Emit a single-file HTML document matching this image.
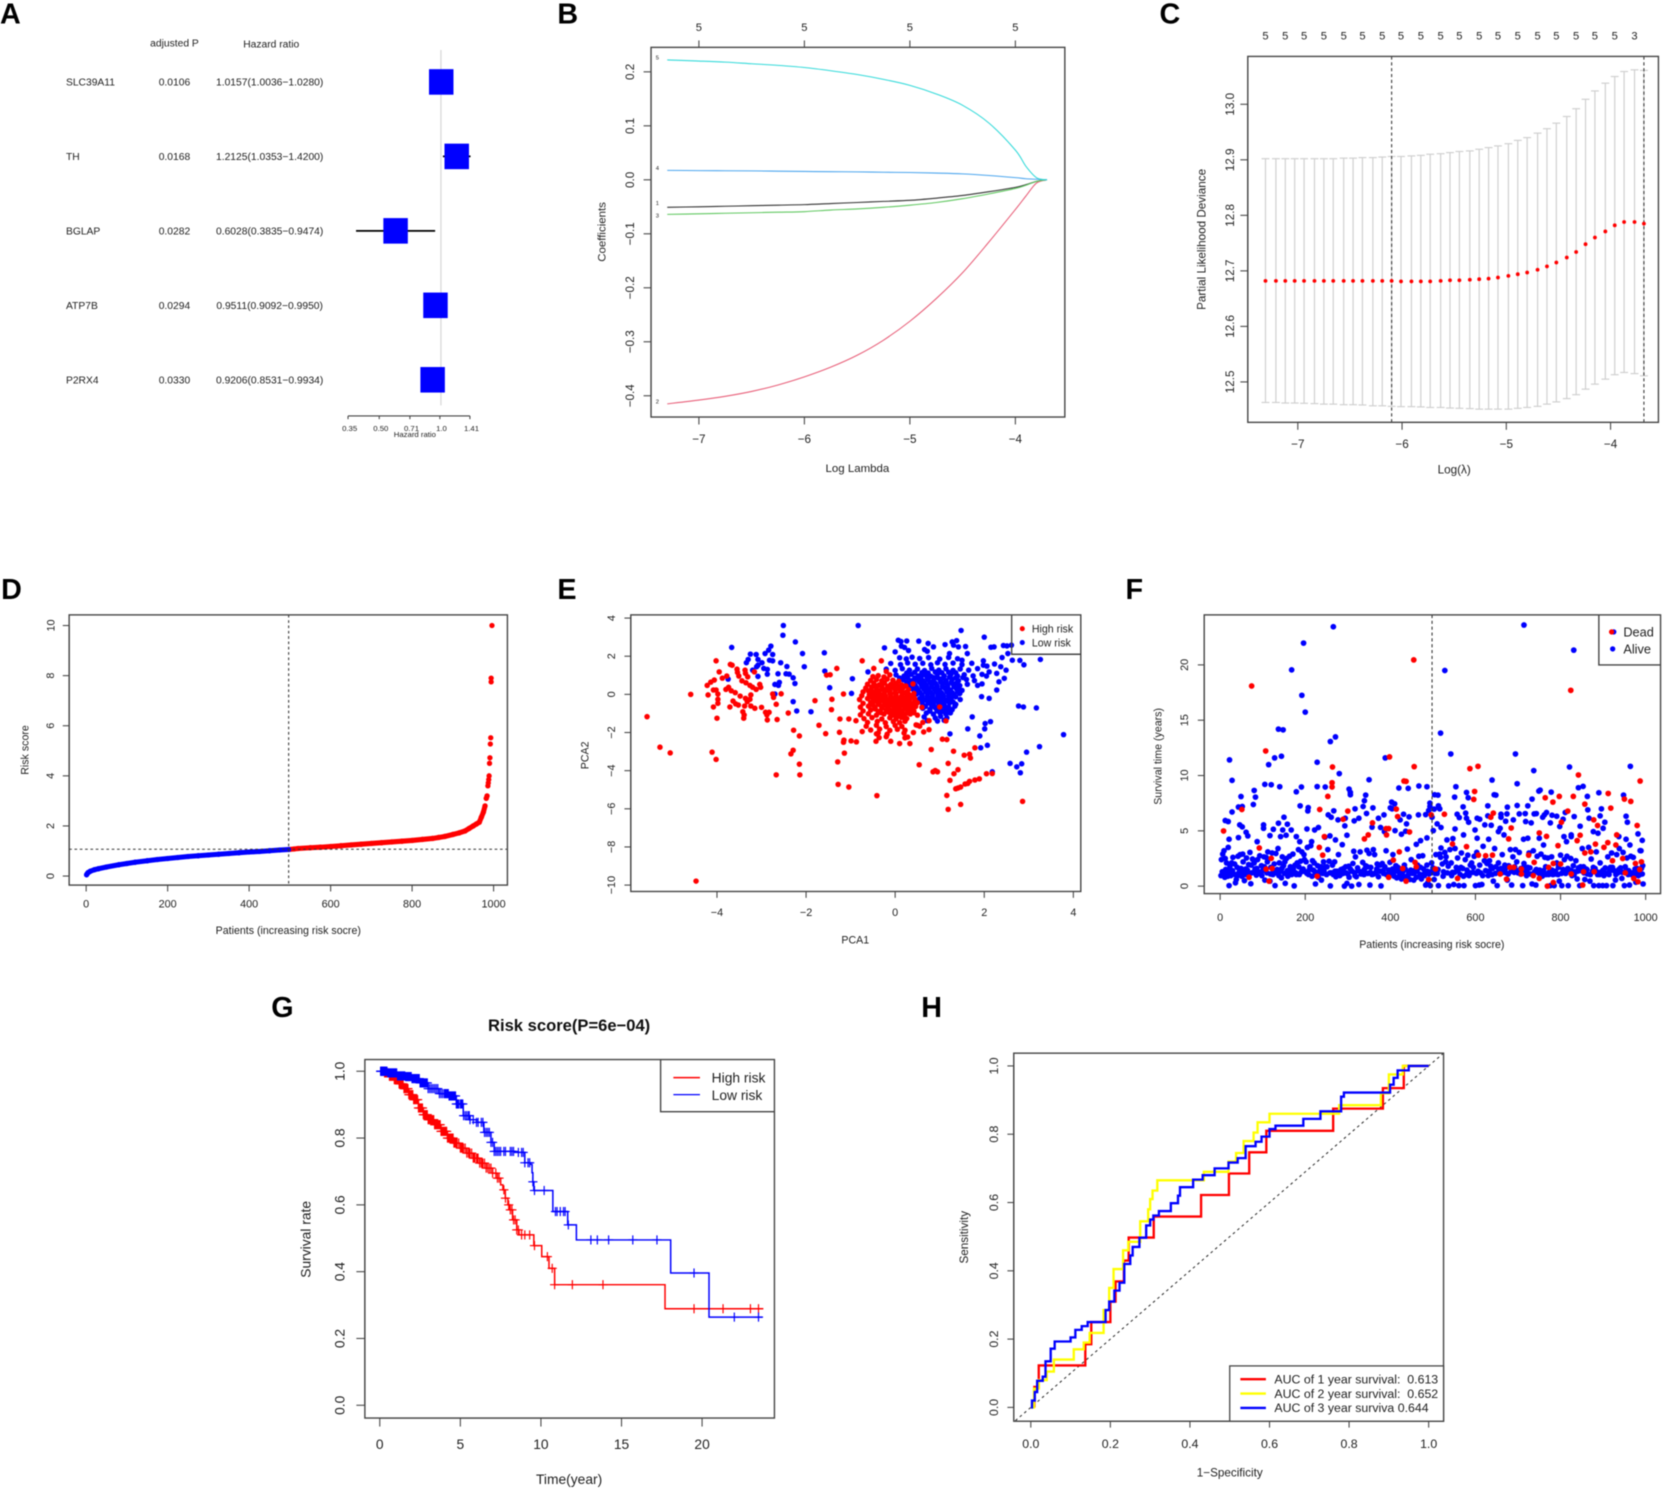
<!DOCTYPE html>
<html lang="en">
<head>
<meta charset="utf-8">
<title>Risk score figure panels A-H</title>
<style>
html,body{margin:0;padding:0;background:#fff;}
svg{display:block;font-family:"Liberation Sans",Arial,sans-serif;filter:blur(.4px);}
.letter{font-size:27px;font-weight:bold;fill:#000;}
</style>
</head>
<body>
<svg id="fig" xmlns="http://www.w3.org/2000/svg" width="1668" height="1492" viewBox="0 0 1568 1402.5">
<rect width="1568" height="1403" fill="#fff"/>
<text class="letter" x="0" y="22">A</text>
<text class="letter" x="524" y="22">B</text>
<text class="letter" x="1090" y="22">C</text>
<text class="letter" x="1" y="563">D</text>
<text class="letter" x="524" y="563">E</text>
<text class="letter" x="1058" y="563">F</text>
<text class="letter" x="255" y="956">G</text>
<text class="letter" x="866" y="956">H</text>
<g id="pA"></g>
<g id="pB"></g>
<g id="pC"></g>
<g id="pD"></g>
<g id="pE"></g>
<g id="pF"></g>
<g id="pG"></g>
<g id="pH"></g>
</svg>
<script>
/* ---------- Panel A data ---------- */
const forestGenes=["SLC39A11","TH","BGLAP","ATP7B","P2RX4"];
const forestP=["0.0106","0.0168","0.0282","0.0294","0.0330"];
const forestHR=[1.0157,1.2125,0.6028,0.9511,0.9206];
const forestLo=[1.0036,1.0353,0.3835,0.9092,0.8531];
const forestHi=[1.0280,1.4200,0.9474,0.9950,0.9934];
const forestTicks=[0.35,0.50,0.71,1.0,1.41];
const forestTickLabels=["0.35","0.50","0.71","1.0","1.41"];
/* ---------- Panel B data ---------- */
const lassoLambda=[-7.3,-7,-6.75,-6.5,-6.25,-6,-5.75,-5.5,-5.25,-5,-4.75,-4.5,-4.25,-4,-3.9,-3.8,-3.7];
const lassoCoef5=[.222,.220,.218,.215,.212,.208,.202,.195,.186,.175,.159,.138,.105,.055,.025,.004,0];
const lassoCoef4=[.0175,.017,.0168,.0165,.016,.0155,.015,.0147,.014,.0135,.0125,.011,.008,.004,.002,.001,0];
const lassoCoef1=[-.051,-.05,-.049,-.048,-.047,-.046,-.044,-.042,-.04,-.038,-.034,-.029,-.022,-.014,-.009,-.003,0];
const lassoCoef3=[-.064,-.063,-.062,-.061,-.06,-.059,-.056,-.054,-.051,-.047,-.042,-.035,-.026,-.016,-.01,-.003,0];
const lassoCoef2=[-.415,-.408,-.401,-.392,-.38,-.365,-.347,-.325,-.297,-.262,-.22,-.172,-.115,-.055,-.03,-.006,0];
const lassoXTicks=[-7,-6,-5,-4];
const lassoXLabels=["−7","−6","−5","−4"];
const lassoYTicks=[.2,.1,0,-.1,-.2,-.3,-.4];
const lassoYLabels=["0.2","0.1","0.0","−0.1","−0.2","−0.3","−0.4"];
/* ---------- Panel C data ---------- */
const cvLambda=[-7.31,-7.21,-7.12,-7.03,-6.94,-6.84,-6.75,-6.66,-6.56,-6.47,-6.38,-6.28,-6.19,-6.10,-6.01,-5.91,-5.82,-5.73,-5.63,-5.54,-5.45,-5.35,-5.26,-5.17,-5.08,-4.98,-4.89,-4.80,-4.70,-4.61,-4.52,-4.42,-4.33,-4.24,-4.15,-4.05,-3.96,-3.87,-3.77,-3.68];
const cvMean=[12.682,12.682,12.682,12.682,12.682,12.682,12.682,12.682,12.682,12.682,12.682,12.682,12.682,12.682,12.681,12.681,12.681,12.681,12.682,12.683,12.683,12.684,12.685,12.686,12.688,12.691,12.694,12.697,12.702,12.708,12.715,12.724,12.734,12.748,12.760,12.771,12.782,12.788,12.788,12.785];
const cvUpper=[12.902,12.902,12.902,12.902,12.902,12.902,12.902,12.902,12.903,12.903,12.904,12.904,12.905,12.906,12.906,12.907,12.908,12.910,12.911,12.913,12.915,12.916,12.919,12.922,12.925,12.929,12.935,12.940,12.948,12.956,12.966,12.978,12.992,13.009,13.024,13.038,13.050,13.059,13.062,13.061];
const cvLower=[12.463,12.463,12.462,12.462,12.4615,12.461,12.460,12.460,12.459,12.459,12.4585,12.457,12.457,12.456,12.4555,12.4555,12.455,12.454,12.454,12.453,12.4525,12.452,12.451,12.451,12.451,12.451,12.4525,12.454,12.456,12.460,12.464,12.470,12.477,12.487,12.496,12.505,12.513,12.517,12.515,12.511];
const cvTopCounts=["5","5","5","5","5","5","5","5","5","5","5","5","5","5","5","5","5","5","5","3"];
const cvXTicks=[-7,-6,-5,-4];
const cvXLabels=["−7","−6","−5","−4"];
const cvYTicks=[12.5,12.6,12.7,12.8,12.9,13.0];
const cvYLabels=["12.5","12.6","12.7","12.8","12.9","13.0"];
const cvVLines=[-6.10,-3.68];
/* ---------- Panel D data ---------- */
const riskPatients=[1,3,5,10,20,30,50,80,100,120,150,175,200,225,250,275,300,325,350,375,400,425,450,475,497,510,520,550,575,600,625,650,675,700,725,750,775,800,825,850,865,880,900,915,930,940,950,958,965,970,975,979,982,984,986,987,988,989,990,991,992,993,994,994,996];
const riskScores=[.05,.1,.14,.19,.25,.29,.36,.45,.5,.55,.61,.66,.7,.74,.78,.81,.84,.87,.9,.93,.96,.98,1.01,1.04,1.06,1.08,1.1,1.13,1.15,1.18,1.21,1.24,1.27,1.3,1.33,1.36,1.39,1.42,1.46,1.5,1.54,1.58,1.66,1.72,1.8,1.9,2.0,2.08,2.15,2.35,2.55,2.8,3.1,3.2,3.6,3.72,3.85,4.0,4.5,4.72,5.27,5.52,7.75,7.9,10];
const riskXTicks=[0,200,400,600,800,1000];
const riskYTicks=[0,2,4,6,8,10];
const riskCutPatient=497;
const riskCutScore=1.07;
/* ---------- Panel E data ---------- */
const pcaHigh=[[-5.57,-1.17],[-5.28,-2.77],[-5.05,-3.07],[-4.59,0],[-4.11,-3.03],[-4.02,-3.41],[-4.47,-9.79],[-2.67,-4.22],[-2.14,-4.22],[-2.15,-3.66],[-2.34,-3.12],[-2.29,-2.93],[-2.28,-1.88],[-2.15,-2.18],[-1.71,-1.62],[-1.56,-2.06],[-1.8,-.33],[-2.4,-.98],[-2.56,.03],[-2.67,-.52],[-2.65,-1.32],[-1.29,-3.54],[-1.28,-4.72],[-1.04,-4.86],[-.41,-5.31],[-1.14,-3.08],[-1.25,-1.99],[-1.16,-2.51],[-1.15,-2.4],[-.99,-2.44],[-.87,-2.49],[-1.24,-1.29],[-1.04,-1.29],[-.88,-1.38],[-.74,-1.95],[-1.42,-.26],[-1.43,-.8],[-1.54,1.01],[-1.46,1.03],[-1.31,1.36],[-.74,1.76],[-.31,1.76],[-.48,1.36],[-1.16,.02],
[.54,-3.69],[.81,-2.89],[.85,-4.06],[.9,-3.99],[.95,-4.06],[1.06,-2.35],[1.16,-2.37],[1.31,-2.98],[1.19,-3.62],[1.32,-4.16],[1.41,-3.95],[1.23,-4.51],[1.36,-4.95],[1.41,-4.91],[1.47,-4.86],[1.57,-4.7],[1.63,-4.67],[1.67,-4.56],[1.79,-4.49],[1.89,-4.43],[2.05,-4.16],[2.18,-4.15],[1.16,-5.3],[1.19,-6.03],[1.47,-5.77],[2.86,-5.61],[1.55,-3.19],[1.67,-3.14],[1.69,-3.34],[1.79,-2.8],[1.14,-1.39],[1,-.66],[.76,-1.38],[.76,-1.85],[.64,-1.97],[.47,-1.6],[.41,-2],[.33,-2.58],[.1,-2.58],[-.1,-2.46],[-.43,-2.46],
[-4.02,1.76],[-3.95,1.18],[-3.88,.85],[-3.78,.96],[-4.06,.75],[-4.14,.64],[-4.22,.47],[-4.2,-.03],[-4.08,.23],[-4.02,.23],[-3.98,.02],[-3.98,-.26],[-3.98,-.47],[-4.08,-.66],[-4,-1.25],[-3.7,1.57],[-3.66,1.53],[-3.55,1.32],[-3.54,1.15],[-3.51,.96],[-3.37,1.27],[-3.36,1.1],[-3.31,.92],[-3.16,1.18],[-3.44,.71],[-3.35,.61],[-3.26,.47],[-3.2,.37],[-3.04,.52],[-3.12,.26],[-3.02,.37],[-3.74,.37],[-3.8,.26],[-3.68,.19],[-3.59,.09],[-3.48,-.09],[-3.36,-.21],[-3.24,-.03],[-3.26,-.26],[-3.32,-.38],[-3.64,-.35],[-3.58,-.5],[-3.71,-.66],[-3.52,-.56],[-3.38,-.61],[-3.24,-.61],[-3.15,-.73],[-3,-.68],[-3.42,-.91],[-3.4,-1.25],[-3.39,-1.08],[-2.91,-.94],[-2.83,-.94],[-2.88,-1.08],[-2.87,-1.34],[-2.75,.02],[-2.73,-.16],
[-.5,.93],[-.38,.98],[-.25,.91],[-.12,1.02],[-.2,1.2],[-.55,.73],[-.42,.78],[-.3,.71],[-.18,.8],[-.05,.74],[.08,.69],[-.62,.53],[-.48,.58],[-.36,.5],[-.24,.6],[-.1,.52],[.02,.57],[.15,.49],[.4,.55],[-.66,.33],[-.53,.38],[-.42,.3],[-.3,.37],[-.18,.32],[-.06,.39],[.06,.31],[.18,.36],[-.72,.13],[-.6,.18],[-.48,.11],[-.36,.17],[-.24,.12],[-.12,.19],[0,.1],[.12,.16],[.25,.12],[-.75,-.07],[-.58,-.02],[-.46,-.09],[-.34,-.03],[-.22,-.08],[-.1,-.01],[.02,-.06],[.14,-.1],[.26,-.03],[.38,-.08],[-.8,-.27],[-.62,-.22],[-.42,-.29],[-.28,-.23],[-.16,-.28],[-.04,-.21],[.08,-.27],[.2,-.22],[.32,-.29],[.44,-.24],[-.72,-.47],[-.55,-.42],[-.38,-.49],[-.24,-.43],[-.12,-.48],[0,-.41],[.12,-.47],[.24,-.43],[.36,-.49],[.5,-.44],[-.78,-.67],[-.6,-.62],[-.45,-.69],[-.3,-.63],[-.16,-.68],[-.04,-.61],[.08,-.67],[.2,-.62],[.32,-.69],[.46,-.64],[.6,-.68],[-.72,-.87],[-.55,-.82],[-.38,-.89],[-.2,-.83],[-.08,-.88],[.04,-.81],[.16,-.87],[.28,-.82],[.42,-.88],[-.78,-1.07],[-.6,-1.02],[-.42,-1.09],[-.25,-1.03],[-.05,-1.08],[.08,-1.01],[.2,-1.07],[.34,-1.03],[.5,-1.09],[-.7,-1.27],[-.52,-1.22],[-.3,-1.29],[-.12,-1.23],[.02,-1.28],[.14,-1.21],[.26,-1.27],[-.62,-1.47],[-.4,-1.42],[-.22,-1.49],[-.04,-1.43],[.1,-1.48],[.22,-1.41],[.62,-1.47],[-.65,-1.67],[-.42,-1.62],[-.2,-1.69],[0,-1.63],[.15,-1.68],[.5,-1.62],[.55,-1.67],[-.55,-1.87],[-.35,-1.82],[-.12,-1.89],[.05,-1.83],[.22,-1.88],[-.42,-2.07],[-.38,-2.02],[-.18,-2.09],[.2,-2.03],[-.36,-2.27],[-.2,-2.22],[.22,-2.28],[.28,-2.24]];
const pcaHighDense=[[-.44,.44],[-.3,.47],[-.17,.42],[-.03,.46],[.1,.41],[.24,.44],[-.54,.24],[-.4,.22],[-.27,.26],[-.14,.21],[0,.25],[.14,.22],[.3,.25],[-.5,.04],[-.37,.06],[-.25,.02],[-.12,.07],[.02,.03],[.16,.06],[.3,.02],[.42,.05],[-.52,-.16],[-.38,-.14],[-.24,-.18],[-.1,-.13],[.03,-.17],[.15,-.14],[.28,-.18],[.42,-.15],[-.48,-.36],[-.32,-.33],[-.2,-.37],[-.07,-.34],[.06,-.38],[.18,-.33],[.3,-.37],[.44,-.35],[-.5,-.56],[-.36,-.53],[-.22,-.57],[-.08,-.54],[.04,-.58],[.16,-.53],[.28,-.57],[.42,-.54],[-.45,-.76],[-.3,-.73],[-.14,-.77],[-.02,-.74],[.1,-.78],[.22,-.73],[.36,-.77],[-.32,-.96],[-.15,-.93],[0,-.97],[.14,-.94],[.27,-.98],[.42,-.96],[-.1,-1.15],[.06,-1.14],[.2,-1.16]];
const pcaLow=[[.07,2.84],[.13,2.77],[.26,2.8],[.53,2.79],[-.24,2.44],[0,2.23],[.14,2.53],[.21,2.46],[.3,2.3],[.74,2.67],[.66,2.35],[.72,2.26],[.86,2.49],[1.12,2.61],[1.28,2.75],[1.38,2.82],[1.48,3.35],[2,3],[1.31,2.58],[1.42,2.49],[1.58,2.51],[1.22,2.14],[1.62,2.14],[1.5,1.79],[2.15,2.47],[2.22,2.49],[2.43,2.56],[2.51,2.54],[2.61,2.58],[2.53,2.14],[2.4,1.93],[2.63,1.79],[2.8,1.78],[2.89,1.55],[3.26,1.83],[1.98,1.76],[1.98,1.53],[2.06,1.48],[2.23,1.59],[2.11,1.18],[2.37,1.45],[2.49,1.27],[2.28,1.1],[2.45,.84],[2.33,.66],[2.28,.23],[2.11,-.21],[1.94,-.12],
[2.77,-.61],[2.88,-.66],[3.17,-.71],[3.78,-2.11],[3.24,-2.74],[2.95,-3.03],[1.73,-1.18],[1.63,-1.81],[1.23,-2.07],[2.14,-1.43],[2.02,-1.53],[2.01,-1.81],[1.9,-2.18],[2.07,-2.67],[1.92,-2.8],[2.18,-4.06],[2.58,-3.62],[2.73,-3.8],[2.84,-3.64],[2.81,-4.11],
[-3.67,2.46],[-3.75,.8],[-3.25,2.11],[-3.12,2.09],[-3.3,1.83],[-3.34,1.66],[-3.08,1.83],[-3.08,1.53],[-2.99,1.66],[-3.11,1.45],[-3.2,1.27],[-3.08,.94],[-2.92,2.14],[-2.84,2.32],[-2.79,2.53],[-2.75,2.09],[-2.82,1.79],[-2.75,1.76],[-2.95,1.36],[-2.87,1.31],[-2.87,1.06],[-2.63,1.08],[-2.57,1.66],[-2.43,1.46],[-2.45,1.08],[-2.38,1.06],[-2.29,.87],[-2.25,.57],[-2.6,.63],[-2.7,.52],[-2.62,.47],[-2.7,.02],[-2.51,3.61],[-2.52,3.1],[-2.24,2.75],[-2.08,2.14],[-2.04,1.45],[-2.29,-.38],[-2.21,-.87],[-1.89,-.91],[-1.59,2.18],[-1.58,1.22],[-1.47,.35],[-.83,3.61],[-.61,1.18],[-.96,.82],[-.98,.05],
[.1,1.92],[.25,1.86],[.38,1.95],[.55,1.88],[.75,1.93],[1,1.85],[1.2,1.94],[1.4,1.87],[-.1,1.62],[.12,1.56],[.28,1.65],[.45,1.58],[.62,1.63],[.8,1.55],[.95,1.66],[1.12,1.57],[1.3,1.64],[1.5,1.56],[1.72,1.63],[-.2,1.32],[0,1.26],[.16,1.35],[.32,1.27],[.5,1.33],[.66,1.25],[.82,1.36],[.98,1.27],[1.14,1.34],[1.3,1.26],[1.46,1.33],[1.65,1.27],[1.85,1.35],[.02,1.02],[.2,.96],[.36,1.05],[.52,.97],[.66,1.03],[.8,.95],[.95,1.06],[1.1,.97],[1.25,1.04],[1.4,.96],[1.55,1.03],[1.75,.97],[1.95,1.05],[2.05,.96],[.18,.77],[.36,.71],[.5,.8],[.62,.72],[.74,.78],[.86,.7],[1,.81],[1.14,.72],[1.28,.79],[1.42,.71],[1.6,.78],[1.78,.72],[.3,.52],[.45,.46],[.58,.55],[.7,.47],[.82,.53],[.94,.45],[1.06,.56],[1.18,.47],[1.3,.54],[1.45,.46],[1.62,.53],[1.85,.47],[1.95,.55],[.4,.27],[.52,.21],[.64,.3],[.76,.22],[.88,.28],[1,.2],[1.12,.31],[1.24,.22],[1.38,.29],[1.5,.21],[.48,.02],[.6,-.04],[.72,.05],[.84,-.03],[.96,.03],[1.08,-.05],[1.2,.06],[1.32,-.03],[1.45,.04],[.55,-.23],[.66,-.29],[.78,-.2],[.9,-.28],[1.02,-.22],[1.14,-.3],[1.26,-.19],[1.46,-.27],[.45,-.48],[.62,-.54],[.74,-.45],[.86,-.53],[.98,-.47],[1.1,-.55],[1.22,-.44],[1.36,-.52],[.62,-.73],[.78,-.79],[.9,-.7],[1.02,-.78],[1.14,-.72],[1.28,-.8],[.7,-.98],[.86,-1.04],[1,-.95],[1.14,-1.03],[1.24,-.97],[.65,-1.18],[.9,-1.24],[1.02,-1.15],[1.16,-1.23],[.72,-1.38],[.95,-1.4],[1.1,-1.36]];
const pcaLowDense=[[.26,1.12],[.44,1.16],[.6,1.14],[.74,1.12],[.9,1.17],[1.05,1.13],[1.2,1.16],[1.36,1.13],[.1,.86],[.28,.88],[.44,.86],[.58,.9],[.72,.87],[.86,.88],[.94,.88],[1.08,.86],[1.22,.9],[1.36,.87],[1.52,.88],[.26,.63],[.42,.6],[.54,.66],[.66,.6],[.78,.65],[.9,.59],[1.02,.66],[1.14,.6],[1.26,.64],[1.38,.6],[.36,.38],[.48,.35],[.6,.41],[.7,.36],[.82,.4],[.94,.34],[1.06,.41],[1.18,.35],[1.32,.4],[1.42,.35],[.44,.13],[.56,.09],[.68,.15],[.8,.09],[.92,.14],[1.04,.08],[1.16,.15],[1.28,.09],[1.4,.14],[.6,-.12],[.72,-.1],[.84,-.15],[.96,-.09],[1.08,-.14],[1.2,-.09],[1.36,-.13],[.6,-.38],[.72,-.35],[.82,-.4],[.94,-.34],[1.06,-.41],[1.18,-.35],[1.3,-.4],[.68,-.63],[.82,-.61],[.96,-.66],[1.08,-.61],[1.2,-.66],[1.34,-.62],[.78,-.88],[.94,-.86],[1.08,-.9],[1.2,-.85]];
const pcaXTicks=[-4,-2,0,2,4];
const pcaXLabels=["−4","−2","0","2","4"];
const pcaYTicks=[4,2,0,-2,-4,-6,-8,-10];
const pcaYLabels=["4","2","0","−2","−4","−6","−8","−10"];
/* ---------- Panel F data ---------- */
const deadPoints=[[74,18.09],[455,20.45],[824,17.7],[107,12.22],[398,11.68],[456,10.8],[264,10.77],[587,10.62],[606,10.83],[842,10.05],[987,9.5],[432,9.5],[437,9.47],[263,9.35],[263,8.96],[253,8.11],[234,6.93],[300,6.78],[51,6.93],[8,4.99],[92,3.45],[120,2.51],[598,8.56],[596,7.84],[764,7.99],[782,7.6],[797,8.11],[830,8.11],[912,8.38],[950,7.87],[965,7.66],[857,7.41],[918,7.05],[817,6.78],[527,6.5],[496,6.44],[642,6.6],[636,6.23],[417,6.29],[414,6.96],[358,5.72],[289,6.05],[245,4.48],[390,5.2],[396,5.2],[391,4.63],[445,4.9],[348,4.63],[339,4.27],[546,3.81],[684,5.26],[678,4.27],[750,4.81],[767,4.5],[802,5.78],[794,3.66],[846,4.6],[839,4.11],[878,5.99],[887,5.48],[902,3.51],[911,3.93],[932,4.63],[930,3.72],[980,5.48],[233,3.5],[241,2.8],[421,3.1],[607,2.8],[624,2.75],[640,2.8],[407,2.35],[738,2.15],[783,2.05],[800,2],[725,2.8],[579,3.57],[871,3.1],[857,3],[882,3.8],[922,2.3],[946,2.5],[458,2.15],[461,1.75],[976,2.05],[990,2.2],[986,1.5],[429,1.6],[108,1.54],[122,1.6],[68,.8],[115,.45],[228,.9],[396,.8],[437,.45],[490,.6],[506,1.55],[558,.7],[658,1.1],[673,.63],[681,1.7],[690,1.7],[708,1.55],[708,1.1],[736,.95],[750,.7],[769,0],[783,.33],[772,1.7],[825,1.1],[852,.1],[854,1.3],[879,1.3],[972,.7],[982,.4],[952,1.2]];
const alivePoints=[[266,23.45],[196,21.97],[168,19.55],[192,17.25],[200,15.73],[137,14.19],[148,14.13],[259,13.07],[271,13.49],[144,11.74],[128,11.59],[114,10.98],[22,11.41],[28,9.56],[228,11.2],[388,11.59],[280,10.17],[350,9.62],[714,23.6],[831,21.33],[528,19.49],[518,13.83],[542,11.95],[694,11.95],[737,10.44],[821,10.77],[964,10.83],[698,9.26],[639,9.59],
[49,8.1],[80,8.65],[83,8.05],[78,7.38],[105,9.2],[120,9.17],[140,8.99],[179,8.53],[191,8.96],[228,9],[247,8.96],[188,7.26],[207,7.1],[206,6.8],[52,7.2],[43,7.15],[28,6.7],[12,5.93],[19,5.84],[46,5.54],[52,5.36],[102,5.54],[102,5.23],[61,4.87],[65,4.54],[21,4.24],[43,4.39],[87,4.02],[150,6.23],[137,5.69],[158,5.6],[125,5.14],[147,5.08],[167,5.08],[204,5.17],[222,5.08],[231,5.3],[117,4.57],[142,4.48],[155,4.6],[179,4.48],[187,4.02],[215,4.02],[246,4.42],[258,4.54],[271,4.18],[254,6.44],[261,6.23],[267,6.81],[277,5.99],[294,6.14],[293,5.45],[298,4.6],[303,8.77],[306,8.47],[306,8.26],[317,6.99],[315,5.9],[326,6.14],[336,7.2],[339,7.72],[342,8.23],[344,6.57],[359,7.08],[357,5.33],[372,6.14],[385,6.44],[377,5.3],[386,4.93],[400,7.08],[403,7.6],[410,7.44],[404,6.99],[420,8.87],[442,8.84],[467,9.05],[486,8.99],[466,6.44],[444,6.26],[431,6.5],[423,5.99],[438,5.63],[411,5.02],[436,4.96],[426,4.69],[483,6.47],[490,6.84],[493,7.5],[493,7.2],[503,6.96],[498,6.23],[501,5.02],[471,4.11],[486,4.36],[461,3.78],
[504,8.26],[512,8.23],[513,7.26],[516,6.99],[510,5.63],[519,5.3],[554,8.99],[551,8.05],[557,6.5],[562,6.2],[552,5.17],[533,4.18],[547,4.3],[571,7.17],[577,6.6],[579,8.47],[583,7.99],[579,6.14],[584,5.78],[572,4.63],[599,5.08],[604,6.14],[610,6.05],[604,4.33],[629,7.26],[644,8.26],[648,8.23],[629,6.35],[622,5.54],[637,5.5],[631,4.24],[660,6.5],[660,6.23],[654,4.93],[658,5.23],[667,4.63],[671,5.87],[674,6.53],[698,7.29],[675,7.14],[689,5.99],[703,6.53],[717,6.56],[718,5.84],[731,5.72],[723,7.26],[733,7.87],[738,6.53],[743,6.56],[749,8.59],[752,8.68],[778,8.5],[758,6.23],[762,6.44],[767,6.66],[776,5.72],[780,6.41],[791,6.32],[798,5.39],[806,6.05],[811,6.66],[750,4.33],[723,4.33],[713,4.24],[760,3.72],[808,4.48],[814,4.02],[825,4.63],[832,6.29],[825,4.48],[846,5.42],[842,8.9],[853,9.02],[863,8.11],[864,6.9],[867,6.14],[890,8.44],[896,6.99],[893,6.35],[904,5.78],[900,5.23],[877,4.93],[888,4.78],[948,8.23],[954,6.32],[957,5.78],[954,4.24],[937,4.48],[963,3.72],[982,4.72],[992,4.14],[987,3.21],
[2,.95],[3,2.4],[6,2.9],[7,1.1],[9,3.2],[11,.8],[13,1.5],[15,2.1],[17,1.2],[19,3.5],[21,.05],[23,1.8],[25,.95],[27,2.1],[29,1.4],[31,1.1],[34,2],[36,.3],[38,.6],[40,1.7],[42,2.7],[44,1.2],[47,2.85],[49,1.6],[51,.9],[53,2.9],[55,1.3],[57,.5],[59,1.05],[62,2.55],[64,1.45],[66,1.15],[70,3.05],[72,.22],[73,1.9],[76,2.45],[79,1.25],[82,1.55],[85,1],[88,2.4],[90,1.3],[93,2.75],[95,1.1],[97,1.85],[100,1.4],[103,2.65],[105,.55],[108,2.6],[110,1.2],[112,3.1],[117,.45],[119,1.7],[122,3],[124,1.05],[127,2],[129,.05],[131,2.95],[134,1.5],[136,3.4],[139,2.1],[141,1.35],[144,.75],[146,2.65],[149,1.85],[151,1.15],[153,.25],[156,2.5],[158,1.4],[160,1.1],[163,2.7],[165,1.75],[168,1.05],[171,2.9],[174,.02],[176,1.9],[178,1.2],[181,2.1],[184,3.3],[186,1.05],[189,2.25],[192,3.1],[195,1.55],[197,2.85],[200,1.3],[202,2.2],[205,3.5],[208,1.05],[211,1.75],[213,3.65],[216,.9],[219,1.45],[221,2.1],[224,.2],[226,1.2],[229,1.85],[231,.8],[235,1.45],[238,.55],[241,1.15],[243,2.2],[247,1.75],[250,1.05],[253,3.3],[256,2.25],[259,.02],[262,1.2],[266,1.05],[269,2.2],[272,.85],[275,1.35],[278,2.85],[281,.95],[284,1.5],[287,3.75],[289,1.15],[292,0],[295,1.75],[298,.25],[300,1.1],[303,.8],[306,1.55],[309,0],[312,2.05],[314,3.15],[316,1.2],[318,2.65],[320,.85],[323,1.65],[326,.15],[329,3.1],[332,1.3],[335,2.15],[338,1.05],[342,1.85],[345,3.25],[347,1.15],[350,2.95],[352,.1],[354,1.7],[357,1.05],[360,3.3],[363,2.85],[366,1.25],[369,2],[372,.85],[375,1.35],[378,.02],[381,2.05],[384,1.15],[387,1.75],[390,3.2],[393,1.05],[396,1.45],[399,2.15],[403,1.2],[406,2.85],[409,.9],[412,1.35],[415,.75],[418,1.7],[422,1.05],[426,.65],[430,1.35],[433,1.9],[436,.85],[440,3.35],[443,1.25],[446,.6],[449,2.4],[452,1.15],[455,.55],[458,1.45],[461,.8],[464,1.9],[467,2.7],[470,1.05],[473,.65],[476,2.75],[478,1.55],[480,.95],[483,.1],[486,1.9],[488,.3],[491,1.1],[494,.05],[497,2.1],[500,1.65],[503,.6],[507,2.85],[510,1.15],[513,.05],[516,2.9],[519,3.45],[522,2],[525,1.3],[528,3.05],[531,2.65],[534,1.2],[537,.02],[540,3.3],[543,2.1],[546,1.25],[549,.15],[552,3.4],[555,1.7],[558,2.55],[561,.05],[564,1.05],[567,3],[570,1.6],[573,.05],[576,2.4],[579,1.05],[582,2.8],[585,.95],[588,1.9],[591,2.1],[594,1.25],[597,2.7],[600,.05],[603,3.05],[606,1.35],[609,.1],[612,1.2],[615,.15],[618,3.6],[621,2.3],[624,1.4],[627,2.05],[630,.95],[633,2.3],[636,1.8],[639,1.05],[642,.45],[645,3.4],[648,1.75],[651,.05],[654,2.1],[657,1.35],[660,1.6],[663,2.85],[666,1.3],[669,1.9],[672,1.2],[675,.55],[678,1.85],[682,3.3],[685,.1],[688,2.65],[691,1.25],[694,3.3],[697,2.2],[700,1.2],[703,3.05],[707,1.6],[711,.05],[714,2.05],[717,1.35],[720,.95],[723,1.7],[726,3],[729,1.1],[733,.2],[736,3.2],[739,1.3],[742,.1],[745,2.7],[748,1.2],[751,1.45],[754,2.9],[757,.9],[760,1.4],[763,2.6],[766,1.05],[770,2.55],[773,1.25],[776,.05],[779,2.65],[782,1.05],[785,.05],[788,1.35],[791,2.1],[794,1.05],[797,.45],[800,2.8],[803,.05],[806,1.5],[809,2.4],[812,1.15],[815,2.7],[818,.05],[821,1.45],[824,2.5],[827,.95],[830,1.85],[833,1.3],[836,2.3],[839,.65],[842,1.65],[845,.05],[848,1.4],[851,3.4],[854,1.75],[857,.6],[860,1.55],[863,1.1],[866,3.5],[869,.45],[872,2.45],[875,1.35],[878,.05],[881,1.6],[884,3.1],[887,1.05],[890,.05],[893,2.1],[896,1.3],[899,.05],[902,.95],[905,1.65],[908,.05],[911,2.65],[914,1.05],[917,1.7],[920,3],[923,.05],[926,1.4],[929,.55],[932,2.85],[935,1.2],[938,3.4],[941,1.65],[944,.7],[947,3.05],[950,.05],[953,1.35],[956,2.55],[959,1.05],[962,.1],[965,2.7],[968,1.2],[971,2.6],[974,1.05],[977,.35],[980,1.6],[983,.95],[986,1.05],[989,3.2],[992,1.1],[993,1.85],[994,.2]];
const aliveBand=[[5,1.3],[12,2.5],[18,.9],[24,1.45],[30,2.6],[35,1.05],[41,.95],[46,1.4],[54,2.2],[60,1.55],[67,1.95],[74,1.2],[80,2.1],[86,1.6],[92,1.15],[98,.95],[104,1.75],[111,2.2],[118,1.1],[125,1.45],[132,1.2],[138,.95],[145,1.6],[152,2.2],[159,.9],[166,1.35],[172,1.55],[179,1.05],[185,1.75],[191,1.3],[198,2.4],[204,1.15],[210,1.5],[217,2.3],[223,1.3],[230,1.1],[237,1.75],[244,1.4],[251,1.75],[258,1.2],[264,1.9],[270,1.35],[277,1.15],[283,1.05],[290,1.6],[296,1.2],[302,1.8],[310,1.35],[317,.95],[324,1.4],[331,1.1],[339,1.5],[346,1.75],[353,1.25],[361,1.1],[368,1.55],[376,1.9],[383,1.4],[391,1.05],[398,1.1],[405,1.55],[413,1.85],[420,1.3],[428,1.1],[435,1.55],[442,1],[448,1.45],[456,1.2],[463,1.35],[471,1.7],[479,1.1],[487,1.35],[496,1.3],[505,1.15],[512,1.5],[518,2.6],[524,.9],[530,2.2],[536,1.8],[544,.95],[551,1.25],[559,1.4],[566,1.7],[572,.9],[580,1.45],[587,1.2],[595,1.7],[602,1.15],[610,1.9],[617,.95],[625,2.2],[632,1.35],[640,1.6],[647,1.15],[655,1.5],[662,1.2],[670,1.55],[677,1.1],[684,1.35],[692,1.75],[699,1.4],[706,1.1],[713,1.7],[721,1.3],[728,1.65],[735,1.1],[743,1.5],[750,1.15],[758,1.35],[765,1.75],[772,1.05],[780,1.45],[787,1.1],[795,1.7],[802,1.15],[810,1.3],[817,1.6],[825,1.4],[832,1.05],[840,1.35],[847,1.75],[855,1.2],[862,1.5],[870,1.05],[877,1.7],[885,1.3],[892,1.05],[900,1.45],[907,1.15],[915,1.35],[922,1.7],[930,1.05],[937,1.5],[945,1.25],[952,1.75],[960,1.4],[967,1.05],[975,1.55],[982,1.3],[990,1.6]];
const survXTicks=[0,200,400,600,800,1000];
const survYTicks=[0,5,10,15,20];
const survCutPatient=498;
/* ---------- Panel G data ---------- */
const kmHighTimes=[0,.3,.6,.9,1.2,1.5,1.8,2.1,2.4,2.7,3,3.4,3.8,4.2,4.6,5,5.4,5.8,6.2,6.6,7,7.3,7.5,7.64,7.79,7.95,8.06,8.24,8.5,8.64,9.56,10.05,10.5,10.85,17.7];
const kmHighSurv=[1,.995,.985,.975,.962,.948,.93,.915,.89,.87,.855,.84,.82,.80,.785,.77,.755,.74,.725,.71,.695,.68,.66,.645,.62,.60,.585,.555,.525,.51,.478,.445,.41,.361,.289];
const kmHighEnd=23.8;
const kmHighCensor=[.1,.15,.2,.25,.3,.35,.4,.45,.5,.55,.6,.65,.7,.75,.8,.85,.9,.95,1,1.05,1.1,1.15,1.2,1.25,1.3,1.35,1.4,1.45,1.5,1.55,1.6,1.65,1.7,1.75,1.8,1.85,1.9,1.95,2,2.05,2.1,2.15,2.2,2.25,2.3,2.35,2.4,2.45,2.5,2.55,2.6,2.65,2.7,2.75,2.8,2.85,2.9,2.95,3,3.05,3.1,3.15,3.2,3.25,3.3,3.35,3.4,3.45,3.5,3.55,3.6,3.65,3.7,3.75,3.8,3.85,3.9,3.95,4,4.05,4.1,4.15,4.2,4.25,4.3,4.35,4.4,4.45,4.5,4.55,4.6,4.65,4.7,4.75,4.8,4.9,5,5.05,5.1,5.15,5.2,5.3,5.4,5.5,5.55,5.6,5.7,5.8,5.85,5.9,6,6.05,6.1,6.2,6.3,6.35,6.4,6.5,6.6,6.7,6.8,6.9,7,7.2,7.3,7.4,7.7,7.8,8,8.1,8.2,8.3,8.4,8.5,8.6,8.8,9,9.3,9.6,10.4,10.7,10.85,11.95,13.85,19.5,21.3,23,23.5];
const kmLowTimes=[0,.5,1.1,1.6,2,2.5,3,3.7,4.3,4.75,5.18,5.6,6,6.46,6.9,7.1,8.4,9,9.35,9.45,9.5,9.56,10.74,11.66,12.2,18.05,20.43];
const kmLowSurv=[1,.995,.986,.984,.978,.965,.948,.933,.926,.902,.867,.855,.847,.817,.787,.76,.757,.726,.721,.696,.669,.643,.58,.54,.495,.396,.264];
const kmLowEnd=23.74;
const kmLowCensor=[.05,.08,.1,.12,.15,.18,.2,.22,.25,.28,.3,.33,.35,.38,.4,.45,.5,.55,.6,.65,.7,.75,.8,.85,.9,.95,1,1.05,1.1,1.15,1.2,1.25,1.3,1.35,1.4,1.45,1.5,1.55,1.6,1.65,1.7,1.75,1.8,1.85,1.9,1.95,2,2.05,2.1,2.15,2.2,2.25,2.3,2.35,2.4,2.45,2.5,2.55,2.6,2.65,2.7,2.75,2.8,2.85,2.9,2.95,3,3.1,3.2,3.3,3.4,3.5,3.6,3.7,3.8,3.9,4,4.05,4.1,4.15,4.2,4.25,4.3,4.35,4.4,4.45,4.5,4.55,4.6,4.65,4.7,4.75,4.8,4.85,4.9,5,5.05,5.1,5.15,5.2,5.3,5.4,5.5,5.55,5.6,5.8,6,6.1,6.3,6.4,6.5,6.6,6.7,6.8,6.9,7,7.1,7.2,7.3,7.4,7.5,7.7,7.8,8.1,8.2,8.3,8.6,8.8,8.9,9,9.2,9.3,9.5,9.6,10.2,10.9,11,11.2,11.4,11.5,11.7,13.1,13.5,14.2,15.7,17.2,19.5,22,23.5];
const kmXTicks=[0,5,10,15,20];
const kmYTicks=[0,.2,.4,.6,.8,1];
const kmYLabels=["0.0","0.2","0.4","0.6","0.8","1.0"];
/* ---------- Panel H data ---------- */
const roc1Fpr=[.009,.009,.02,.02,.137,.137,.152,.152,.2,.2,.213,.213,.234,.234,.246,.246,.309,.309,.428,.428,.498,.498,.549,.549,.592,.592,.76,.76,.885,.885,.9375,.9375,1];
const roc1Tpr=[0,.06,.06,.123,.123,.185,.185,.25,.25,.31,.31,.369,.369,.43,.43,.4975,.4975,.559,.559,.622,.622,.685,.685,.747,.747,.81,.81,.875,.875,.935,.935,1,1];
const roc2Fpr=[0,.008,.008,.02,.02,.04,.04,.058,.058,.108,.108,.133,.133,.148,.148,.183,.183,.197,.197,.208,.208,.232,.232,.245,.245,.275,.275,.295,.295,.3,.3,.306,.306,.318,.318,.435,.435,.497,.497,.516,.516,.535,.535,.56,.56,.57,.57,.6,.6,.775,.775,.88,.88,.9,.9,.935,.935,1];
const roc2Tpr=[0,0,.055,.055,.08,.08,.105,.105,.14,.14,.17,.17,.19,.19,.218,.218,.285,.285,.35,.35,.405,.405,.46,.46,.485,.485,.545,.545,.58,.58,.61,.61,.635,.635,.665,.665,.69,.69,.72,.72,.745,.745,.78,.78,.805,.805,.835,.835,.86,.86,.885,.885,.92,.92,.975,.975,1,1];
const roc3Fpr=[0,.003,.003,.01,.01,.016,.016,.03,.03,.037,.037,.05,.05,.06,.06,.1,.1,.112,.112,.128,.128,.143,.143,.188,.188,.197,.197,.21,.21,.223,.223,.235,.235,.25,.25,.256,.256,.273,.273,.29,.29,.3,.3,.308,.308,.322,.322,.352,.352,.37,.37,.375,.375,.408,.408,.432,.432,.462,.462,.497,.497,.52,.52,.54,.54,.565,.565,.58,.58,.6,.6,.615,.615,.685,.685,.728,.728,.78,.78,.787,.787,.903,.903,.912,.912,.922,.922,.95,.95,1];
const roc3Tpr=[0,0,.02,.02,.045,.045,.078,.078,.09,.09,.135,.135,.172,.172,.193,.193,.205,.205,.227,.227,.238,.238,.25,.25,.285,.285,.31,.31,.342,.342,.365,.365,.42,.42,.445,.445,.47,.47,.497,.497,.533,.533,.55,.55,.562,.562,.575,.575,.598,.598,.62,.62,.645,.645,.667,.667,.68,.68,.7,.7,.717,.717,.73,.73,.765,.765,.778,.778,.793,.793,.815,.815,.825,.825,.845,.845,.867,.867,.91,.91,.922,.922,.945,.945,.965,.965,.987,.987,1,1];
const rocTicks=[0,.2,.4,.6,.8,1];
const rocLabels=["0.0","0.2","0.4","0.6","0.8","1.0"];
const rocLegendLabels=["AUC of 1 year survival:  0.613","AUC of 2 year survival:  0.652","AUC of 3 year surviva 0.644"];
const rocLegendColors=["#ff0000","#ffff00","#0000ff"];

/* ---------- helpers ---------- */
const NS="http://www.w3.org/2000/svg";
const INK="#222",FRAME="#444";
function mk(parent,tag,attrs,name){
  const el=document.createElementNS(NS,tag);
  for(const k in attrs)el.setAttribute(k,attrs[k]);
  
  
  parent.appendChild(el);
  return el;
}
function txt(parent,x,y,s,size,name,opt){
  opt=opt||{};
  const a={x:x,y:y,'font-size':size,fill:opt.fill||INK,'text-anchor':opt.anchor||'middle'};
  if(opt.rot)a.transform='rotate(-90 '+x+' '+y+')';
  if(opt.weight)a['font-weight']=opt.weight;
  a.style='white-space:pre';
  const el=mk(parent,'text',a,name);
  el.textContent=s;
  return el;
}
function ln(parent,x1,y1,x2,y2,stroke,w,name,dash){
  const a={x1:x1,y1:y1,x2:x2,y2:y2,stroke:stroke,'stroke-width':w};
  if(dash)a['stroke-dasharray']=dash;
  return mk(parent,'line',a,name);
}
function lin(d0,r0,d1,r1){return v=>r0+(v-d0)*(r1-r0)/(d1-d0);}
function frame(g,x0,y0,x1,y1){
  return mk(g,'rect',{x:x0,y:y0,width:x1-x0,height:y1-y0,fill:'none',stroke:FRAME,'stroke-width':1.3},'plot-frame');
}
function xAxis(g,ticks,labels,sx,y,len,size,baseline){
  ln(g,sx(ticks[0]),y,sx(ticks[ticks.length-1]),y,FRAME,1,'x-axis-line');
  ticks.forEach((t,i)=>{
    ln(g,sx(t),y,sx(t),y+len,FRAME,1,'x-axis-tick');
    txt(g,sx(t),baseline,labels[i],size,'x-tick-label');
  });
}
function yAxis(g,ticks,labels,sy,x,len,size,baseline){
  ln(g,x,sy(ticks[0]),x,sy(ticks[ticks.length-1]),FRAME,1,'y-axis-line');
  ticks.forEach((t,i)=>{
    ln(g,x,sy(t),x-len,sy(t),FRAME,1,'y-axis-tick');
    txt(g,baseline,sy(t),labels[i],size,'y-tick-label',{rot:true});
  });
}
function smoothPath(pts){
  let d='M'+pts[0][0]+' '+pts[0][1];
  for(let i=0;i<pts.length-1;i++){
    const p0=pts[Math.max(0,i-1)],p1=pts[i],p2=pts[i+1],p3=pts[Math.min(pts.length-1,i+2)];
    const c1=[p1[0]+(p2[0]-p0[0])/6,p1[1]+(p2[1]-p0[1])/6];
    const c2=[p2[0]-(p3[0]-p1[0])/6,p2[1]-(p3[1]-p1[1])/6];
    d+=' C'+c1[0]+' '+c1[1]+' '+c2[0]+' '+c2[1]+' '+p2[0]+' '+p2[1];
  }
  return d;
}

/* ---------- Panel A ---------- */
(function(){
  const g=document.getElementById('pA');
  const rowY=[77,147,217,287,357];
  const sx=v=>413.5+57*Math.log2(v);
  txt(g,164,43.5,'adjusted P',9.7,'adjusted-p-header');
  txt(g,255,44.5,'Hazard ratio',9.7,'hazard-ratio-header');
  ln(g,414.5,47,414.5,381,'#d8d8d8',1.2,'reference-line-hr-1');
  forestGenes.forEach((name,i)=>{
    const y=rowY[i];
    txt(g,62,y+3.5,name,9.7,'gene-label',{anchor:'start'});
    txt(g,164,y+3.5,forestP[i],9.7,'adjusted-p-value');
    const lab=forestHR[i].toFixed(4)+'('+forestLo[i].toFixed(4)+'−'+forestHi[i].toFixed(4)+')';
    txt(g,253.5,y+3.5,lab,9.7,'hazard-ratio-value');
    ln(g,sx(forestLo[i]),y,sx(forestHi[i]),y,'#000',1.6,'hazard-ratio-ci');
    mk(g,'rect',{x:sx(forestHR[i])-11.5,y:y-12,width:23,height:24,fill:'#0000ff'},'hazard-ratio-square');
  });
  ln(g,sx(forestTicks[0]),391,sx(forestTicks[4]),391,FRAME,1,'forest-axis-line');
  forestTicks.forEach((t,i)=>{
    ln(g,sx(t),391,sx(t),394,FRAME,1,'forest-axis-tick');
    txt(g,sx(t)+1.5,405,forestTickLabels[i],7.3,'forest-tick-label');
  });
  txt(g,390,411,'Hazard ratio',7.3,'forest-axis-title');
})();

/* ---------- Panel B ---------- */
(function(){
  const g=document.getElementById('pB');
  const sx=lin(-7,657,-4,954.5),sy=lin(.2,67.5,-.4,372);
  const series=[[lassoCoef1,'#333333','1'],[lassoCoef2,'#e8607a','2'],[lassoCoef3,'#62c862','3'],[lassoCoef4,'#4da6ee','4'],[lassoCoef5,'#35dada','5']];
  series.forEach(s=>{
    const pts=lassoLambda.map((l,i)=>[sx(l),sy(s[0][i])]);
    mk(g,'path',{d:smoothPath(pts),fill:'none',stroke:s[1],'stroke-width':1},'coefficient-path-'+s[2]);
    txt(g,618,sy(s[0][0])+(s[2]==='1'?-2:s[2]==='3'?3:-.5),s[2],5.5,'coefficient-path-label');
  });
  frame(g,612,44.5,1001,392);
  xAxis(g,lassoXTicks,lassoXLabels,sx,392,7,11,416.5);
  yAxis(g,lassoYTicks,lassoYLabels,sy,612,7,11,596);
  lassoXTicks.forEach(t=>{
    ln(g,sx(t),44.5,sx(t),38,FRAME,1,'top-axis-tick');
    txt(g,sx(t),29,'5',10.5,'top-axis-count');
  });
  txt(g,806,443.5,'Log Lambda',10.8,'x-axis-title');
  txt(g,569,218,'Coefficients',10.8,'y-axis-title',{rot:true});
})();

/* ---------- Panel C ---------- */
(function(){
  const g=document.getElementById('pC');
  const sx=lin(-7,1220,-4,1514),sy=lin(13,98,12.5,359);
  cvLambda.forEach((l,i)=>{
    const x=sx(l);
    ln(g,x,sy(cvUpper[i]),x,sy(cvLower[i]),'#cfcfcf',1.1,'error-bar');
    ln(g,x-3.7,sy(cvUpper[i]),x+3.7,sy(cvUpper[i]),'#cfcfcf',1.1,'error-cap-upper');
    ln(g,x-3.7,sy(cvLower[i]),x+3.7,sy(cvLower[i]),'#cfcfcf',1.1,'error-cap-lower');
  });
  cvVLines.forEach(v=>ln(g,sx(v),53,sx(v),397,'#333',1,'selected-lambda-line','3 2.5'));
  cvLambda.forEach((l,i)=>{
    mk(g,'circle',{cx:sx(l),cy:sy(cvMean[i]),r:1.8,fill:'#ff0000'},'mean-deviance-point');
  });
  frame(g,1173,53,1559,397);
  xAxis(g,cvXTicks,cvXLabels,sx,397,7,11,421);
  yAxis(g,cvYTicks,cvYLabels,sy,1173,7,11,1160);
  cvTopCounts.forEach((c,i)=>{
    txt(g,sx(cvLambda[i*2]),37,c,10.5,'top-axis-count');
  });
  txt(g,1367,445,'Log(λ)',11,'x-axis-title');
  txt(g,1133,225,'Partial Likelihood Deviance',11,'y-axis-title',{rot:true});
})();

/* ---------- Panel D ---------- */
(function(){
  const g=document.getElementById('pD');
  const sx=lin(0,81,1000,464),sy=lin(0,823.5,10,588);
  const col=p=>p<=riskCutPatient?'#0000ff':'#ff0000';
  riskPatients.forEach((p,i)=>{
    if(i>0&&riskScores[i]-riskScores[i-1]<.3&&riskScores[i]<3.3){
      const seg=ln(g,sx(riskPatients[i-1]),sy(riskScores[i-1]),sx(p),sy(riskScores[i]),col(p),4.8,'risk-score-band');
      seg.setAttribute('stroke-linecap','round');
    }
  });
  riskPatients.forEach((p,i)=>{
    mk(g,'circle',{cx:sx(p),cy:sy(riskScores[i]),r:2.5,fill:col(p)},'risk-score-point');
  });
  ln(g,65,sy(riskCutScore),477,sy(riskCutScore),'#333',1,'median-risk-hline','2.5 2.5');
  ln(g,sx(riskCutPatient),578,sx(riskCutPatient),832,'#333',1,'median-patient-vline','2.5 2.5');
  frame(g,65,578,477,832);
  xAxis(g,riskXTicks,riskXTicks.map(String),sx,832,6,10.2,853);
  yAxis(g,riskYTicks,riskYTicks.map(String),sy,65,6,10.2,51);
  txt(g,271,878,'Patients (increasing risk socre)',10,'x-axis-title');
  txt(g,27,705,'Risk score',10,'y-axis-title',{rot:true});
})();

/* ---------- Panel E ---------- */
(function(){
  const g=document.getElementById('pE');
  const sx=lin(-4,674,4,1009),sy=lin(4,581,-10,832);
  const clip=mk(g,'g',{},'pca-points');
  pcaLow.concat(pcaLowDense).forEach(p=>{
    mk(clip,'circle',{cx:sx(p[0]),cy:sy(p[1]),r:2.6,fill:'#0000ff'},'low-risk-point');
  });
  pcaHigh.concat(pcaHighDense).forEach(p=>{
    mk(clip,'circle',{cx:sx(p[0]),cy:sy(p[1]),r:2.6,fill:'#ff0000'},'high-risk-point');
  });
  frame(g,593,578,1016,838);
  xAxis(g,pcaXTicks,pcaXLabels,sx,838,6,10.2,861);
  yAxis(g,pcaYTicks,pcaYLabels,sy,593,6,10.2,578);
  txt(g,804,887,'PCA1',10,'x-axis-title');
  txt(g,553,710,'PCA2',10,'y-axis-title',{rot:true});
  const lg=mk(g,'g',{},'legend');
  mk(lg,'path',{d:'M951 578V615H1016',fill:'none',stroke:FRAME,'stroke-width':1.3},'legend-box');
  mk(lg,'circle',{cx:961,cy:591,r:2.4,fill:'#ff0000'},'legend-marker-high-risk');
  mk(lg,'circle',{cx:961,cy:604,r:2.4,fill:'#0000ff'},'legend-marker-low-risk');
  txt(lg,970,594.5,'High risk',10,'legend-label-high-risk',{anchor:'start'});
  txt(lg,970,607.5,'Low risk',10,'legend-label-low-risk',{anchor:'start'});
})();

/* ---------- Panel F ---------- */
(function(){
  const g=document.getElementById('pF');
  const sx=lin(0,1147,1000,1547),sy=lin(0,833,20,625);
  alivePoints.concat(aliveBand).forEach(p=>{
    mk(g,'circle',{cx:sx(p[0]),cy:sy(p[1]),r:2.7,fill:'#0000ff'},'alive-point');
  });
  deadPoints.forEach(p=>{
    mk(g,'circle',{cx:sx(p[0]),cy:sy(p[1]),r:2.7,fill:'#ff0000'},'dead-point');
  });
  ln(g,sx(survCutPatient),578,sx(survCutPatient),840,'#333',1,'median-patient-vline','3 2.5');
  frame(g,1132,578,1561,840);
  xAxis(g,survXTicks,survXTicks.map(String),sx,840,6,10.2,866);
  yAxis(g,survYTicks,survYTicks.map(String),sy,1132,6,10.2,1117);
  txt(g,1346,891,'Patients (increasing risk socre)',10,'x-axis-title');
  txt(g,1092,711,'Survival time (years)',10,'y-axis-title',{rot:true});
  const lg=mk(g,'g',{},'legend');
  mk(lg,'path',{d:'M1503 578V625H1561',fill:'none',stroke:FRAME,'stroke-width':1.3},'legend-box');
  mk(lg,'circle',{cx:1517,cy:594,r:2.5,fill:'#0000ff'},'legend-marker-dead-shadow');
  mk(lg,'circle',{cx:1515,cy:594,r:2.5,fill:'#ff0000'},'legend-marker-dead');
  mk(lg,'circle',{cx:1516,cy:610,r:2.5,fill:'#0000ff'},'legend-marker-alive');
  txt(lg,1526,598.5,'Dead',12,'legend-label-dead',{anchor:'start'});
  txt(lg,1526,614.5,'Alive',12,'legend-label-alive',{anchor:'start'});
})();

/* ---------- Panel G ---------- */
(function(){
  const g=document.getElementById('pG');
  const sx=lin(0,357,20,660),sy=lin(0,1321,1,1007);
  function stepAt(times,surv,t){
    let s=surv[0];
    for(let i=0;i<times.length;i++){if(times[i]<=t)s=surv[i];}
    return s;
  }
  function drawCurve(times,surv,end,cens,color,key){
    let d='M'+sx(times[0])+' '+sy(surv[0]);
    for(let i=1;i<times.length;i++){
      d+=' H'+sx(times[i])+' V'+sy(surv[i]);
    }
    d+=' H'+sx(end);
    mk(g,'path',{d:d,fill:'none',stroke:color,'stroke-width':1.4},key+'-survival-curve');
    cens.forEach(t=>{
      const x=sx(t),y=sy(stepAt(times,surv,t));
      ln(g,x,y-4.3,x,y+4.3,color,1.1,key+'-censor-mark');
      ln(g,x-4.3,y,x+4.3,y,color,1.1,key+'-censor-mark');
    });
  }
  drawCurve(kmHighTimes,kmHighSurv,kmHighEnd,kmHighCensor,'#ff0000','high-risk');
  drawCurve(kmLowTimes,kmLowSurv,kmLowEnd,kmLowCensor,'#0000ff','low-risk');
  frame(g,343,996,728,1333);
  xAxis(g,kmXTicks,kmXTicks.map(String),sx,1333,8,13,1362);
  yAxis(g,kmYTicks,kmYLabels,sy,343,8,13,324);
  txt(g,535,969,'Risk score(P=6e−04)',15.6,'chart-title',{weight:'bold',fill:'#111'});
  txt(g,535,1395,'Time(year)',13,'x-axis-title');
  txt(g,292,1165,'Survival rate',13,'y-axis-title',{rot:true});
  const lg=mk(g,'g',{},'legend');
  mk(lg,'path',{d:'M621 996V1045H728',fill:'none',stroke:FRAME,'stroke-width':1.3},'legend-box');
  ln(lg,633,1013,658,1013,'#ff0000',1.4,'legend-line-high-risk');
  ln(lg,633,1029,658,1029,'#0000ff',1.2,'legend-line-low-risk');
  txt(lg,669,1017.5,'High risk',13,'legend-label-high-risk',{anchor:'start'});
  txt(lg,669,1034,'Low risk',13,'legend-label-low-risk',{anchor:'start'});
})();

/* ---------- Panel H ---------- */
(function(){
  const g=document.getElementById('pH');
  const sx=lin(0,969,1,1343),sy=lin(0,1323,1,1002);
  const clipId='rocClip';
  const defs=mk(g,'defs',{},'roc-defs');
  const cp=mk(defs,'clipPath',{id:clipId},'roc-clip');
  mk(cp,'rect',{x:953,y:990,width:404,height:346},'roc-clip-rect');
  const diag=ln(g,sx(-.05),sy(-.05),sx(1.05),sy(1.05),'#333',1,'diagonal-reference-line','2.5 3');
  diag.setAttribute('clip-path','url(#'+clipId+')');
  const curves=[[roc1Fpr,roc1Tpr,'#ff0000','roc-curve-1-year'],[roc2Fpr,roc2Tpr,'#ffff00','roc-curve-2-year'],[roc3Fpr,roc3Tpr,'#0000ff','roc-curve-3-year']];
  curves.forEach(c=>{
    const pts=c[0].map((f,i)=>sx(f)+','+sy(c[1][i])).join(' ');
    mk(g,'polyline',{points:pts,fill:'none',stroke:c[2],'stroke-width':2.2},c[3]);
  });
  frame(g,953,990,1357,1336);
  xAxis(g,rocTicks,rocLabels,sx,1336,6,11.6,1361);
  yAxis(g,rocTicks,rocLabels,sy,953,6,11.6,938);
  txt(g,1156,1388,'1−Specificity',11,'x-axis-title');
  txt(g,910,1163,'Sensitivity',11,'y-axis-title',{rot:true});
  const lg=mk(g,'g',{},'legend');
  mk(lg,'rect',{x:1156,y:1284,width:201,height:52,fill:'#fff',stroke:FRAME,'stroke-width':1.2},'legend-box');
  const ly=[1296.5,1310,1323.5];
  rocLegendLabels.forEach((s,i)=>{
    ln(lg,1166,ly[i],1190,ly[i],rocLegendColors[i],2.2,'legend-line');
    txt(lg,1198,ly[i]+4,s,11.6,'legend-label',{anchor:'start'});
  });
})();
</script>
</body>
</html>
